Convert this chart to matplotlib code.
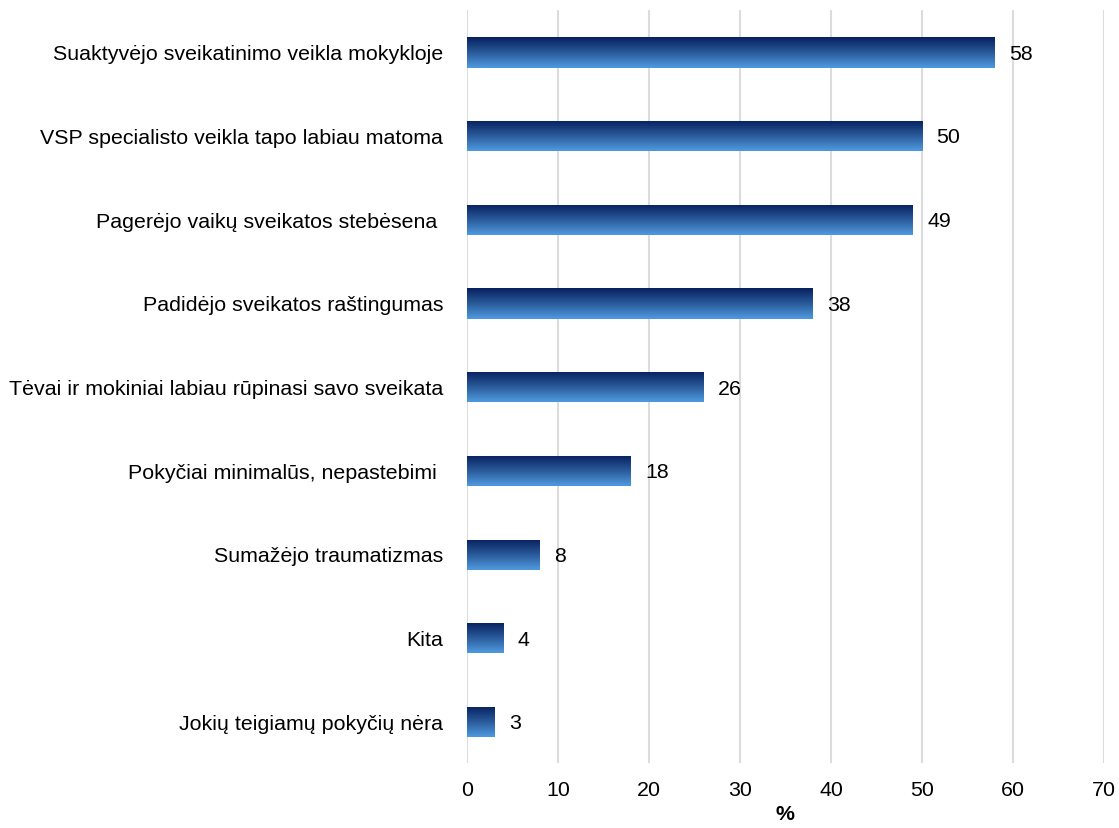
import matplotlib
matplotlib.use("Agg")
import matplotlib.pyplot as plt
import numpy as np
from matplotlib.colors import LinearSegmentedColormap

categories = [
    "Suaktyvėjo sveikatinimo veikla mokykloje",
    "VSP specialisto veikla tapo labiau matoma",
    "Pagerėjo vaikų sveikatos stebėsena ",
    "Padidėjo sveikatos raštingumas",
    "Tėvai ir mokiniai labiau rūpinasi savo sveikata",
    "Pokyčiai minimalūs, nepastebimi ",
    "Sumažėjo traumatizmas",
    "Kita",
    "Jokių teigiamų pokyčių nėra",
]
values = [58, 50, 49, 38, 26, 18, 8, 4, 3]
xticks = [0, 10, 20, 30, 40, 50, 60, 70]

plt.rcParams['font.family'] = ['Liberation Sans', 'DejaVu Sans']
FS = 15.4

fig = plt.figure(figsize=(11.19, 8.29), dpi=100)
ax = fig.add_axes([0.4173, 0.0784, 0.9866 - 0.4173, 0.987 - 0.0784])

y = np.arange(len(categories))
bh = 0.36
bars = ax.barh(y + 0.01, values, height=bh, color='none', edgecolor='none', zorder=3)

cmap = LinearSegmentedColormap.from_list("g", ["#06205e", "#2a5a9a", "#4f9be0"])
grad = np.linspace(0, 1, 256).reshape(-1, 1)
for b in bars:
    x0, y0 = b.get_x(), b.get_y()
    w, h = b.get_width(), b.get_height()
    im = ax.imshow(grad, cmap=cmap, aspect='auto',
                   extent=[x0, x0 + w, y0 + h, y0], origin='upper', zorder=3,
                   interpolation='bilinear')
    im.set_clip_path(b)

for yi, v in zip(y, values):
    ax.text(v + 1.6, yi + 0.02, str(v), va='center', ha='left', fontsize=FS, color='#000000')

ax.set_xlim(0, 70)
ax.set_ylim(len(categories) - 0.5, -0.5)
ax.set_xticks(xticks)
ax.set_xticklabels([str(t) for t in xticks], fontsize=FS)
ax.set_yticks(y)
ax.set_yticklabels(categories, fontsize=FS)
ax.tick_params(axis='x', length=0, pad=12)
ax.tick_params(axis='y', length=0, pad=17)
for s in ax.spines.values():
    s.set_visible(False)
ax.grid(axis='x', color='#dcdcdc', linewidth=1.5, zorder=0)
ax.set_axisbelow(True)
ax.set_xlabel('%', fontsize=FS, fontweight='bold', labelpad=4)

fig.savefig('out.png', dpi=100)
